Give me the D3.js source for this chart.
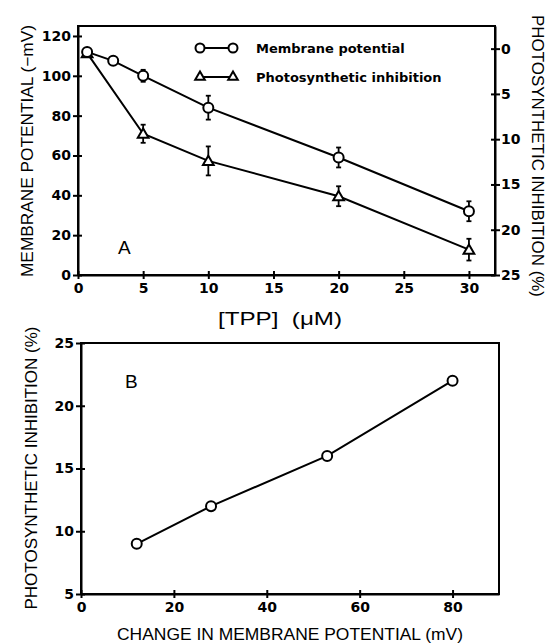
<!DOCTYPE html>
<html>
<head>
<meta charset="utf-8">
<script src="https://cdn.jsdelivr.net/npm/d3@7"></script>
<style>
  body { margin: 0; background: #fff; }
  svg { font-family: "Liberation Sans", Arial, sans-serif; }
  .tick text { font-family: "DejaVu Sans", sans-serif; font-weight: bold; font-size: 14px; fill: #000; }
</style>
</head>
<body>
<div id="chart"></div>
<script>
// panel A data
var tpp = [0.7, 2.7, 5, 10, 20, 30];
var membrane = [112, 107.5, 100, 84, 59, 32];
var membraneErr = [0, 0, 3, 6, 5, 5];
var tppInh = [0.7, 5, 10, 20, 30];
var inhibition = [0.5, 9.4, 12.4, 16.3, 22.2];
var inhibitionErr = [0, 1, 1.6, 1.1, 1.2];

// panel B data
var deltaMP = [12, 28, 53, 80];
var inhibB = [9, 12, 16, 22];

var xTicksA = [0, 5, 10, 15, 20, 25, 30];
var yTicksA = [0, 20, 40, 60, 80, 100, 120];
var y2TicksA = [0, 5, 10, 15, 20, 25];
var xTicksB = [0, 20, 40, 60, 80];
var yTicksB = [5, 10, 15, 20, 25];

var W = 553, H = 643;
var svg = d3.select("#chart").append("svg")
    .attr("width", W)
    .attr("height", H);

function crossTicks(g) {
    // ticks cross the axis line
    g.selectAll(".tick line").attr("stroke-width", 2);
    g.select(".domain").attr("stroke-width", 2);
}

// ---------- Panel A ----------
var A = {left: 78, right: 495, top: 26, bottom: 275};

var xA = d3.scaleLinear().domain([0, 32]).range([A.left, A.right]);
var yA = d3.scaleLinear().domain([0, 125]).range([A.bottom, A.top]);
var y2A = d3.scaleLinear().domain([25, -2.5]).range([A.bottom, A.top]);

svg.append("rect")
    .attr("x", A.left).attr("y", A.top)
    .attr("width", A.right - A.left).attr("height", A.bottom - A.top)
    .attr("fill", "none").attr("stroke", "#000").attr("stroke-width", 2);

var gxA = svg.append("g")
    .attr("transform", "translate(0," + A.bottom + ")")
    .call(d3.axisBottom(xA).tickValues(xTicksA).tickSize(4).tickSizeOuter(0).tickPadding(4));
gxA.selectAll(".tick line").attr("y1", -4);
crossTicks(gxA);

var gyA = svg.append("g")
    .attr("transform", "translate(" + A.left + ",0)")
    .call(d3.axisLeft(yA).tickValues(yTicksA).tickSize(5).tickSizeOuter(0).tickPadding(2));
gyA.selectAll(".tick line").attr("x1", 4);
crossTicks(gyA);

var gy2A = svg.append("g")
    .attr("transform", "translate(" + A.right + ",0)")
    .call(d3.axisRight(y2A).tickValues(y2TicksA).tickSize(5).tickSizeOuter(0).tickPadding(1));
gy2A.selectAll(".tick line").attr("x1", -4);
crossTicks(gy2A);

// membrane potential series
var mpData = tpp.map(function (d, i) { return {x: d, y: membrane[i], e: membraneErr[i]}; });
var inhData = tppInh.map(function (d, i) { return {x: d, y: inhibition[i], e: inhibitionErr[i]}; });

var lineMP = d3.line().x(function (d) { return xA(d.x); }).y(function (d) { return yA(d.y); });
var lineInh = d3.line().x(function (d) { return xA(d.x); }).y(function (d) { return y2A(d.y); });

svg.append("path").datum(mpData).attr("d", lineMP)
    .attr("fill", "none").attr("stroke", "#000").attr("stroke-width", 2);
svg.append("path").datum(inhData).attr("d", lineInh)
    .attr("fill", "none").attr("stroke", "#000").attr("stroke-width", 2);

function errBars(data, xs, ys) {
    var g = svg.append("g").attr("stroke", "#000").attr("stroke-width", 1.8);
    data.filter(function (d) { return d.e > 0; }).forEach(function (d) {
        var cx = xs(d.x);
        var y1 = ys(d.y + d.e), y2 = ys(d.y - d.e);
        g.append("line").attr("x1", cx).attr("x2", cx).attr("y1", y1).attr("y2", y2);
        g.append("line").attr("x1", cx - 2.5).attr("x2", cx + 2.5).attr("y1", y1).attr("y2", y1);
        g.append("line").attr("x1", cx - 2.5).attr("x2", cx + 2.5).attr("y1", y2).attr("y2", y2);
    });
}
errBars(mpData, xA, yA);
errBars(inhData, xA, y2A);

var tri = d3.symbol().type(d3.symbolTriangle).size(50);

svg.selectAll(".triA").data(inhData).enter().append("path")
    .attr("transform", function (d) { return "translate(" + xA(d.x) + "," + (y2A(d.y) + 1) + ")"; })
    .attr("d", tri)
    .attr("fill", "#fff").attr("stroke", "#000").attr("stroke-width", 2);

svg.selectAll(".cirA").data(mpData).enter().append("circle")
    .attr("cx", function (d) { return xA(d.x); })
    .attr("cy", function (d) { return yA(d.y); })
    .attr("r", 5)
    .attr("fill", "#fff").attr("stroke", "#000").attr("stroke-width", 2);

// legend
var leg = svg.append("g");
leg.append("line").attr("x1", 200).attr("x2", 233).attr("y1", 48).attr("y2", 48)
    .attr("stroke", "#000").attr("stroke-width", 2);
[200, 233].forEach(function (cx) {
    leg.append("circle").attr("cx", cx).attr("cy", 48).attr("r", 4.5)
        .attr("fill", "#fff").attr("stroke", "#000").attr("stroke-width", 2);
});
leg.append("line").attr("x1", 200).attr("x2", 233).attr("y1", 77).attr("y2", 77)
    .attr("stroke", "#000").attr("stroke-width", 2);
[200, 233].forEach(function (cx) {
    leg.append("path").attr("transform", "translate(" + cx + ",77)")
        .attr("d", d3.symbol().type(d3.symbolTriangle).size(40))
        .attr("fill", "#fff").attr("stroke", "#000").attr("stroke-width", 2);
});
leg.append("text").attr("x", 256).attr("y", 53).text("Membrane potential")
    .style("font-family", "'DejaVu Sans', sans-serif")
    .style("font-weight", "bold").style("font-size", "13px");
leg.append("text").attr("x", 256).attr("y", 82).text("Photosynthetic inhibition")
    .style("font-family", "'DejaVu Sans', sans-serif")
    .style("font-weight", "bold").style("font-size", "13px");

svg.append("text").attr("x", 118).attr("y", 254).text("A").style("font-size", "19px");

// axis titles A
svg.append("text")
    .attr("transform", "translate(33,151) rotate(-90)")
    .attr("text-anchor", "middle")
    .style("font-size", "16px")
    .attr("textLength", 252).attr("lengthAdjust", "spacingAndGlyphs")
    .text("MEMBRANE POTENTIAL (\u2212mV)");
svg.append("text")
    .attr("transform", "translate(532,156) rotate(90)")
    .attr("text-anchor", "middle")
    .style("font-size", "17px")
    .attr("textLength", 282).attr("lengthAdjust", "spacingAndGlyphs")
    .text("PHOTOSYNTHETIC INHIBITION (%)");
svg.append("text")
    .attr("x", 280).attr("y", 325)
    .attr("text-anchor", "middle")
    .style("font-size", "18px")
    .attr("xml:space", "preserve")
    .attr("textLength", 124).attr("lengthAdjust", "spacingAndGlyphs")
    .text("[TPP]  (\u03bcM)");

// ---------- Panel B ----------
var B = {left: 81, right: 499, top: 343, bottom: 594};

var xB = d3.scaleLinear().domain([0, 90]).range([B.left, B.right]);
var yB = d3.scaleLinear().domain([5, 25]).range([B.bottom, B.top]);

svg.append("rect")
    .attr("x", B.left).attr("y", B.top)
    .attr("width", B.right - B.left).attr("height", B.bottom - B.top)
    .attr("fill", "none").attr("stroke", "#000").attr("stroke-width", 2);

var gxB = svg.append("g")
    .attr("transform", "translate(0," + B.bottom + ")")
    .call(d3.axisBottom(xB).tickValues(xTicksB).tickSize(4).tickSizeOuter(0).tickPadding(4));
gxB.selectAll(".tick line").attr("y1", -4);
crossTicks(gxB);

var gyB = svg.append("g")
    .attr("transform", "translate(" + B.left + ",0)")
    .call(d3.axisLeft(yB).tickValues(yTicksB).tickSize(5).tickSizeOuter(0).tickPadding(2));
gyB.selectAll(".tick line").attr("x1", 4);
crossTicks(gyB);

var bData = deltaMP.map(function (d, i) { return {x: d, y: inhibB[i]}; });
svg.append("path").datum(bData)
    .attr("d", d3.line().x(function (d) { return xB(d.x); }).y(function (d) { return yB(d.y); }))
    .attr("fill", "none").attr("stroke", "#000").attr("stroke-width", 2);
svg.selectAll(".cirB").data(bData).enter().append("circle")
    .attr("cx", function (d) { return xB(d.x); })
    .attr("cy", function (d) { return yB(d.y); })
    .attr("r", 5)
    .attr("fill", "#fff").attr("stroke", "#000").attr("stroke-width", 2);

svg.append("text").attr("x", 125).attr("y", 388).text("B").style("font-size", "19px");

svg.append("text")
    .attr("transform", "translate(37,468) rotate(-90)")
    .attr("text-anchor", "middle")
    .style("font-size", "17px")
    .attr("textLength", 283).attr("lengthAdjust", "spacingAndGlyphs")
    .text("PHOTOSYNTHETIC INHIBITION (%)");
svg.append("text")
    .attr("x", 290).attr("y", 640)
    .attr("text-anchor", "middle")
    .style("font-size", "17px")
    .attr("textLength", 346).attr("lengthAdjust", "spacingAndGlyphs")
    .text("CHANGE IN MEMBRANE POTENTIAL (mV)");
</script>
</body>
</html>
